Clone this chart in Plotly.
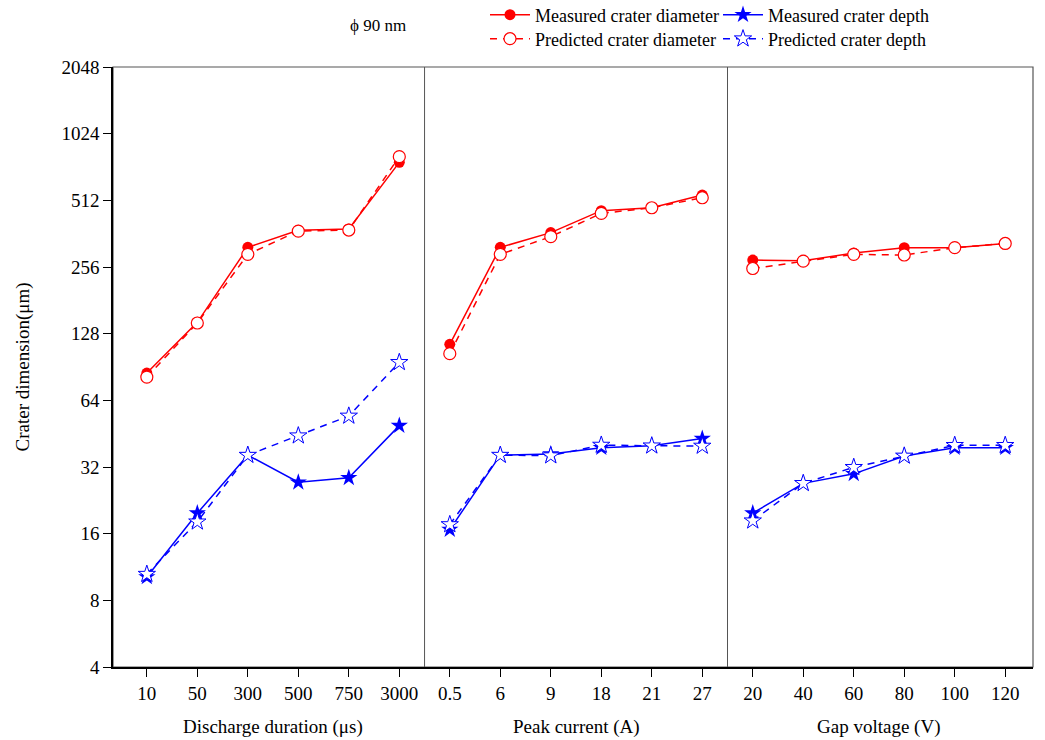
import plotly.graph_objects as go

# ---- data ----
dur_labels = ["10", "50", "300", "500", "750", "3000"]
cur_labels = ["0.5", "6", "9", "18", "21", "27"]
volt_labels = ["20", "40", "60", "80", "100", "120"]

meas_diam_dur = [85, 144, 314, 375, 380, 760]
pred_diam_dur = [81.5, 143, 292, 372, 376, 806]
meas_depth_dur = [10.2, 19.8, 36.2, 27.3, 28.6, 49.2]
pred_depth_dur = [10.5, 18.1, 36.2, 44.3, 54.4, 95]

meas_diam_cur = [114.6, 314, 366, 460, 474, 541]
pred_diam_cur = [104, 292, 351, 447, 474, 526]
meas_depth_cur = [16.7, 36.2, 36.6, 39.1, 39.9, 43]
pred_depth_cur = [17.6, 36.2, 36.0, 40.2, 39.9, 39.8]

meas_diam_volt = [275, 273, 296, 313, 313, 327]
pred_diam_volt = [252, 272, 292, 290, 313, 327]
meas_depth_volt = [19.8, 27.0, 29.8, 35.9, 39.1, 39.1]
pred_depth_volt = [18.3, 27.0, 31.9, 35.9, 40.1, 40.1]

y_ticks = [4, 8, 16, 32, 64, 128, 256, 512, 1024, 2048]

group_titles = ["Discharge duration (\u03bcs)", "Peak current (A)", "Gap voltage (V)"]

groups = [dur_labels, cur_labels, volt_labels]
tick_text = dur_labels + cur_labels + volt_labels
tick_pos = list(range(len(tick_text)))


def joined(*series):
    xs, ys = [], []
    start = 0
    for s in series:
        n = len(s)
        xs += list(range(start, start + n)) + [None]
        ys += list(s) + [None]
        start += n
    return xs, ys


FONT = "Times New Roman, Liberation Serif, serif"
RED = "#ff0000"
BLUE = "#0000ff"
FS = 19

L, R, T, B = 113, 12, 67, 73
PW, PH = 1045 - L - R, 740 - T - B


def px_x(p):
    return (p - L) / PW


def px_y(p):
    return 1 + (T - p) / PH


fig = go.Figure()

x, y = joined(meas_diam_dur, meas_diam_cur, meas_diam_volt)
fig.add_trace(go.Scatter(x=x, y=y, mode="lines+markers", name="Measured crater diameter",
                         line=dict(color=RED, width=1.5),
                         marker=dict(symbol="circle", size=11, color=RED),
                         legend="legend"))
x, y = joined(meas_depth_dur, meas_depth_cur, meas_depth_volt)
fig.add_trace(go.Scatter(x=x, y=y, mode="lines+markers", name="Measured crater depth",
                         line=dict(color=BLUE, width=1.5),
                         marker=dict(symbol="star", size=13, color=BLUE),
                         legend="legend"))
x, y = joined(pred_diam_dur, pred_diam_cur, pred_diam_volt)
fig.add_trace(go.Scatter(x=x, y=y, mode="lines+markers", name="Predicted crater diameter",
                         line=dict(color=RED, width=1.5, dash="7px,6px"),
                         marker=dict(symbol="circle", size=12, color="white",
                                     line=dict(color=RED, width=1.2)),
                         legend="legend2"))
x, y = joined(pred_depth_dur, pred_depth_cur, pred_depth_volt)
fig.add_trace(go.Scatter(x=x, y=y, mode="lines+markers", name="Predicted crater depth",
                         line=dict(color=BLUE, width=1.5, dash="7px,6px"),
                         marker=dict(symbol="star", size=13, color="white",
                                     line=dict(color=BLUE, width=1)),
                         legend="legend2"))

# frame & dividers
shapes = [
    dict(type="rect", xref="paper", yref="paper", x0=0, x1=1, y0=0, y1=1,
         line=dict(color="#555555", width=1.2), layer="below"),
]
n0 = len(groups[0])
n1 = n0 + len(groups[1])
for xv in (n0 - 0.5, n1 - 0.5):
    shapes.append(dict(type="line", xref="x", yref="paper", x0=xv, x1=xv, y0=0, y1=1,
                       line=dict(color="#555555", width=1)))

annotations = []
start = 0
for g, t in zip(groups, group_titles):
    cx = start + (len(g) - 1) / 2
    annotations.append(dict(x=cx, y=px_y(727), xref="x", yref="paper", text=t, showarrow=False,
                            xanchor="center", yanchor="middle",
                            font=dict(family=FONT, size=FS, color="black")))
    start += len(g)
annotations.append(dict(x=px_x(378), y=px_y(26), xref="paper", yref="paper",
                        text="\u03d5 90 nm", showarrow=False, xanchor="center",
                        yanchor="middle", font=dict(family=FONT, size=17, color="black")))

leg_common = dict(orientation="h", xanchor="left", yanchor="middle", entrywidth=178,
                  entrywidthmode="pixels", itemwidth=40,
                  font=dict(family=FONT, size=18), bgcolor="rgba(0,0,0,0)", tracegroupgap=0)

fig.update_layout(
    width=1045, height=740,
    margin=dict(l=L, r=R, t=T, b=B, autoexpand=False),
    plot_bgcolor="white", paper_bgcolor="white",
    font=dict(family=FONT, size=FS, color="black"),
    xaxis=dict(range=[-0.67, 17.55], tickmode="array", tickvals=tick_pos, ticktext=tick_text,
               ticks="outside", ticklen=8, tickcolor="black", showgrid=False, zeroline=False,
               showline=True, linecolor="black", linewidth=1.5,
               tickfont=dict(family=FONT, size=FS)),
    yaxis=dict(type="log", range=[0.60206, 3.31133], tickmode="array", tickvals=y_ticks,
               ticktext=[str(v) for v in y_ticks], ticks="outside", ticklen=8, tickcolor="black",
               showgrid=False, zeroline=False, showline=True, linecolor="black", linewidth=1.5,
               tickfont=dict(family=FONT, size=FS),
               title=dict(text="Crater dimension(\u03bcm)", font=dict(family=FONT, size=FS),
                          standoff=27)),
    legend=dict(x=px_x(485), y=px_y(15), **leg_common),
    legend2=dict(x=px_x(485), y=px_y(39), **leg_common),
    shapes=shapes,
    annotations=annotations,
    showlegend=True,
)

fig.write_html("out.html")
